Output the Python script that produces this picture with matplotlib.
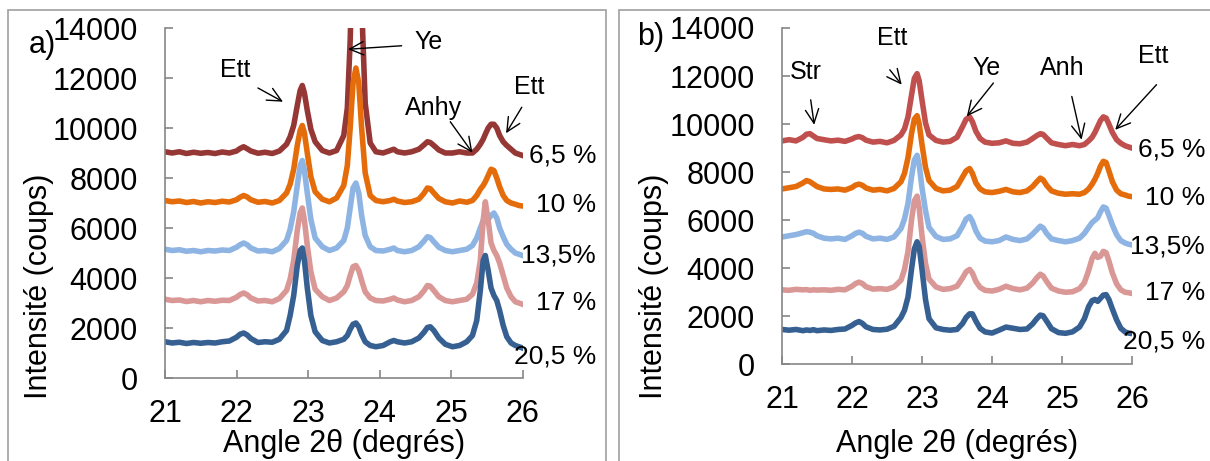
import matplotlib
matplotlib.use("Agg")
import matplotlib.pyplot as plt
from matplotlib.patches import Rectangle

plt.rcParams['font.family'] = ['Liberation Sans', 'DejaVu Sans']

# ---- data (angle 2theta, counts) ----
labels = ["6,5 %", "10 %", "13,5%", "17 %", "20,5 %"]

xa = [21.00, 21.10, 21.20, 21.30, 21.40, 21.50, 21.60, 21.70, 21.80, 21.90,
      22.00, 22.05, 22.10, 22.15, 22.20, 22.30, 22.40, 22.50, 22.60, 22.70,
      22.75, 22.80, 22.85, 22.89, 22.92, 22.95, 22.99, 23.04, 23.10, 23.20,
      23.30, 23.40, 23.50, 23.55, 23.59, 23.63, 23.67, 23.71, 23.75, 23.80,
      23.87, 23.95, 24.05, 24.15, 24.20, 24.25, 24.35, 24.45, 24.55, 24.62,
      24.67, 24.71, 24.76, 24.83, 24.92, 25.02, 25.12, 25.22, 25.30, 25.36,
      25.41, 25.45, 25.48, 25.52, 25.56, 25.60, 25.64, 25.68, 25.73, 25.78,
      25.84, 25.90, 25.95, 26.00]

a_65 = [9050, 9000, 9050, 8980, 9030, 8990, 9020, 8980, 9040, 9000,
        9080, 9180, 9250, 9170, 9080, 8990, 9030, 8980, 9080, 9350,
        9650, 10100, 10900, 11500, 11700, 11400, 10700, 9950, 9450, 9100,
        9000, 9100, 9700, 10800, 13500, 18000, 20000, 18500, 15000, 11000,
        9400, 9050, 9000, 9100, 9150, 9050, 9000, 9050, 9150, 9320,
        9450, 9420, 9300, 9120, 9000, 9000, 9050, 9000, 9000, 9150,
        9350, 9550, 9750, 10000, 10150, 10150, 10000, 9700, 9450, 9300,
        9150, 9000, 8950, 8900]
a_10 = [7100, 7050, 7080, 7020, 7060, 7000, 7050, 7020, 7070, 7040,
        7130, 7230, 7300, 7240, 7130, 7030, 7060, 7000, 7100, 7400,
        7750, 8350, 9300, 9900, 10100, 9800, 9000, 8050, 7450, 7150,
        7050, 7200, 7700, 8500, 10000, 11800, 12400, 11800, 10000, 8200,
        7300, 7100, 7050, 7100, 7150, 7080, 7020, 7050, 7150, 7380,
        7600, 7570, 7400, 7180, 7050, 7000, 7080, 7030, 7100, 7300,
        7550, 7700, 7850, 8100, 8350, 8300, 8000, 7650, 7300, 7100,
        7000, 6950, 6900, 6880]
a_135 = [5150, 5100, 5130, 5070, 5100, 5050, 5100, 5080, 5120, 5100,
         5230, 5330, 5400, 5330, 5200, 5080, 5100, 5050, 5180, 5500,
         5950, 6650, 7700, 8500, 8700, 8300, 7400, 6350, 5600, 5250,
         5100, 5200, 5500, 6000, 6800, 7600, 7800, 7400, 6500, 5700,
         5250, 5100, 5080, 5150, 5200, 5100, 5050, 5100, 5250, 5470,
         5650, 5620, 5450, 5230, 5100, 5050, 5100, 5150, 5300, 5600,
         6000, 6300, 6300, 6350, 6500, 6600, 6400, 6000, 5650, 5350,
         5150, 5000, 4950, 4900]
a_17 = [3150, 3100, 3120, 3060, 3100, 3050, 3100, 3070, 3110, 3100,
        3230, 3340, 3400, 3330, 3200, 3080, 3100, 3050, 3180, 3500,
        3950, 4700, 5900, 6600, 6800, 6300, 5300, 4250, 3550, 3250,
        3100, 3200, 3450, 3700, 4100, 4450, 4500, 4300, 3900, 3450,
        3200, 3100, 3080, 3150, 3200, 3120, 3050, 3100, 3250, 3480,
        3700, 3670, 3500, 3250, 3100, 3050, 3100, 3150, 3350, 3800,
        4700, 6300, 7050, 6300, 5400, 5100, 4900, 4600, 4100, 3600,
        3250, 3050, 3000, 2950]
a_205 = [1450, 1400, 1430, 1380, 1420, 1390, 1420, 1400, 1450, 1480,
         1630, 1750, 1800, 1720, 1580, 1420, 1450, 1430, 1550, 1900,
         2500, 3300, 4500, 5100, 5200, 4700, 3600, 2500, 1850, 1500,
         1400, 1450, 1550, 1700, 1950, 2150, 2200, 2050, 1750, 1450,
         1300, 1250, 1300, 1450, 1500, 1450, 1400, 1450, 1600, 1820,
         2020, 2050, 1900, 1600, 1350, 1250, 1300, 1450, 1700, 2300,
         3500, 4700, 4900, 4300, 3600, 3300, 3100, 2700, 2100, 1650,
         1400, 1300, 1250, 1200]

xb = [21.00, 21.10, 21.20, 21.30, 21.35, 21.40, 21.45, 21.50, 21.60, 21.70,
      21.80, 21.90, 22.00, 22.05, 22.10, 22.15, 22.20, 22.30, 22.40, 22.50,
      22.60, 22.70, 22.75, 22.80, 22.85, 22.89, 22.93, 22.96, 23.00, 23.05,
      23.10, 23.20, 23.30, 23.40, 23.50, 23.58, 23.63, 23.68, 23.72, 23.77,
      23.83, 23.90, 24.00, 24.10, 24.20, 24.30, 24.40, 24.50, 24.58, 24.64,
      24.69, 24.73, 24.78, 24.85, 24.95, 25.05, 25.15, 25.25, 25.32, 25.38,
      25.43, 25.47, 25.51, 25.55, 25.59, 25.63, 25.67, 25.72, 25.78, 25.84,
      25.90, 25.95, 26.00]

b_65 = [9300, 9350, 9300, 9450, 9580, 9600, 9500, 9400, 9350, 9300,
        9330, 9280, 9380, 9450, 9480, 9430, 9330, 9250, 9280, 9220,
        9320, 9550, 9800, 10300, 11200, 11900, 12100, 11800, 11000, 10050,
        9550, 9320, 9250, 9280, 9450, 9900, 10200, 10300, 10100, 9700,
        9400, 9250, 9200, 9220, 9300, 9200, 9180, 9250, 9400, 9520,
        9600, 9570, 9420, 9220, 9150, 9100, 9150, 9100, 9150, 9300,
        9450, 9650, 9900, 10150, 10300, 10250, 10000, 9650, 9350, 9200,
        9100, 9050, 9000]
b_10 = [7300, 7350, 7400, 7550, 7650, 7600, 7500, 7400, 7300, 7280,
        7300, 7250, 7360, 7460, 7500, 7450, 7340, 7250, 7280, 7220,
        7320, 7600, 7950, 8600, 9600, 10200, 10350, 10000, 9150, 8200,
        7650, 7320, 7220, 7250, 7400, 7800, 8050, 8150, 7950, 7550,
        7300, 7180, 7150, 7200, 7280, 7180, 7150, 7220, 7400, 7600,
        7750, 7680, 7450, 7220, 7120, 7080, 7100, 7080, 7150, 7300,
        7500, 7700, 7950, 8250, 8450, 8400, 8050, 7600, 7250, 7100,
        7050, 7000, 6980]
b_135 = [5300, 5350, 5400, 5480, 5520, 5500, 5450, 5350, 5250, 5220,
         5250, 5200, 5350, 5450, 5500, 5450, 5330, 5220, 5250, 5200,
         5300, 5650, 6050, 6700, 7800, 8500, 8700, 8300, 7350, 6400,
         5700, 5320, 5200, 5220, 5350, 5750, 6050, 6150, 5950, 5550,
         5250, 5130, 5100, 5150, 5300, 5200, 5150, 5220, 5420, 5600,
         5750, 5680, 5450, 5220, 5150, 5100, 5150, 5250, 5450, 5700,
         5900, 6000, 6100, 6350, 6550, 6500, 6200, 5800, 5400, 5150,
         5050, 5000, 4970]
b_17 = [3100, 3080, 3120, 3100, 3110, 3080, 3100, 3090, 3100, 3080,
        3120, 3100, 3250, 3360, 3420, 3360, 3230, 3130, 3150, 3120,
        3220, 3500, 3950, 4700, 6000, 6800, 7000, 6500, 5350, 4200,
        3550, 3220, 3120, 3150, 3250, 3600, 3850, 3950, 3800, 3450,
        3200, 3080, 3050, 3120, 3250, 3150, 3100, 3170, 3380, 3600,
        3750, 3680, 3450, 3170, 3050, 3000, 3020, 3150, 3400, 3900,
        4400, 4620, 4450, 4500, 4700, 4650, 4300, 3800, 3350, 3100,
        3000, 2980, 2950]
b_205 = [1450, 1420, 1450, 1400, 1430, 1410, 1440, 1400, 1430, 1410,
         1450, 1470, 1620, 1720, 1780, 1700, 1560, 1450, 1430, 1460,
         1580, 1950, 2250, 2800, 3950, 4800, 5100, 4900, 3950, 2700,
         1900, 1520, 1450, 1420, 1450, 1700, 1950, 2100, 2100, 1800,
         1500, 1350, 1300, 1420, 1550, 1500, 1450, 1470, 1680, 1900,
         2050, 2020, 1800, 1480, 1320, 1290, 1350, 1550, 1900, 2400,
         2650, 2700, 2620, 2750, 2880, 2900, 2700, 2300, 1850, 1500,
         1350, 1300, 1280]

colors_a = ["#953735", "#E46C0A", "#8EB4E3", "#D99795", "#376092"]
colors_b = ["#C0504D", "#E46C0A", "#8EB4E3", "#D99795", "#376092"]

# peak annotations: (text, text pos, arrow tail, arrow head)
notes_a = [("Ett", (21.98, 12320), (22.30, 11600), (22.65, 11050)),
           ("Ye", (24.69, 13440), (24.31, 13290), (23.56, 13150)),
           ("Anhy", (24.75, 10800), (24.99, 10250), (25.30, 9010)),
           ("Ett", (26.09, 11640), (25.99, 10830), (25.77, 9790))]
notes_b = [("Str", (21.34, 12180), (21.41, 11010), (21.46, 9970)),
           ("Ett", (22.57, 13600), (22.54, 12260), (22.71, 11640)),
           ("Ye", (23.93, 12350), (24.02, 11710), (23.64, 10320)),
           ("Anh", (25.00, 12350), (25.14, 11150), (25.28, 9350)),
           ("Ett", (26.30, 12850), (26.35, 11640), (25.76, 9760))]

W, H = 1210, 461
fig = plt.figure(figsize=(W / 100, H / 100), dpi=100)

# panel frames
fig.patches.append(Rectangle((8 / W, -0.1), 598 / W, 1.1 - 10 / H, transform=fig.transFigure,
                             fill=False, ec="#A0A0A0", lw=1.2))
fig.patches.append(Rectangle((619 / W, -0.1), 0.5, 1.1 - 10 / H, transform=fig.transFigure,
                             fill=False, ec="#A0A0A0", lw=1.2))


def make_axes(left, right, top, bottom):
    ax = fig.add_axes([left / W, 1 - bottom / H, (right - left) / W, (bottom - top) / H])
    ax.patch.set_alpha(0)
    ax.set_xlim(21, 26)
    ax.set_ylim(0, 14000)
    ax.set_xticks(range(21, 27))
    ax.set_yticks(range(0, 14001, 2000))
    for s in ["top", "right"]:
        ax.spines[s].set_visible(False)
    for s in ["left", "bottom"]:
        ax.spines[s].set_color("#868686")
        ax.spines[s].set_linewidth(1.2)
    ax.tick_params(direction="in", length=6, width=1.2, color="#868686", labelsize=22)
    ax.tick_params(axis="x", pad=15)
    ax.tick_params(axis="y", pad=19.5)
    return ax


def draw_panel(ax, x, series, colors, notes):
    for y, c in zip(series, colors):
        ax.plot(x, y, color=c, lw=4, solid_joinstyle="round")
    for txt, tpos, tail, head in notes:
        ax.text(tpos[0], tpos[1], txt, fontsize=18, ha="center", va="center")
        ax.annotate("", xy=head, xytext=tail, annotation_clip=False,
                    arrowprops=dict(arrowstyle="->,head_length=0.5,head_width=0.24",
                                    color="black", lw=1.0, shrinkA=0, shrinkB=0,
                                    mutation_scale=20))


ax_a = make_axes(165, 522.5, 28, 378)
draw_panel(ax_a, xa, [a_65, a_10, a_135, a_17, a_205], colors_a, notes_a)
for lab, ly in zip(labels, [8900, 6900, 4900, 3000, 850]):
    ax_a.text(1.2056, ly, lab, transform=ax_a.get_yaxis_transform(), fontsize=19,
              ha="right", va="center")

ax_b = make_axes(782, 1132, 28, 364.3)
draw_panel(ax_b, xb, [b_65, b_10, b_135, b_17, b_205], colors_b, notes_b)
for lab, ly in zip(labels, [8930, 6930, 4890, 2970, 930]):
    ax_b.text(1.2086, ly, lab, transform=ax_b.get_yaxis_transform(), fontsize=19,
              ha="right", va="center")

# axis titles, placed like the original layout
for cx in [344, 957]:
    fig.text(cx / W, 1 - 452 / H, "Angle 2θ (degrés)", fontsize=22, ha="center", va="baseline")
for cx in [39, 654]:
    fig.text(cx / W, 1 - 286.5 / H, "Intensité (coups)", fontsize=22, rotation=90,
             ha="center", va="center")

fig.text(42 / W, 1 - 45 / H, "a)", fontsize=22, ha="center", va="center")
fig.text(651 / W, 1 - 37 / H, "b)", fontsize=22, ha="center", va="center")

fig.savefig("out.png", dpi=100)
